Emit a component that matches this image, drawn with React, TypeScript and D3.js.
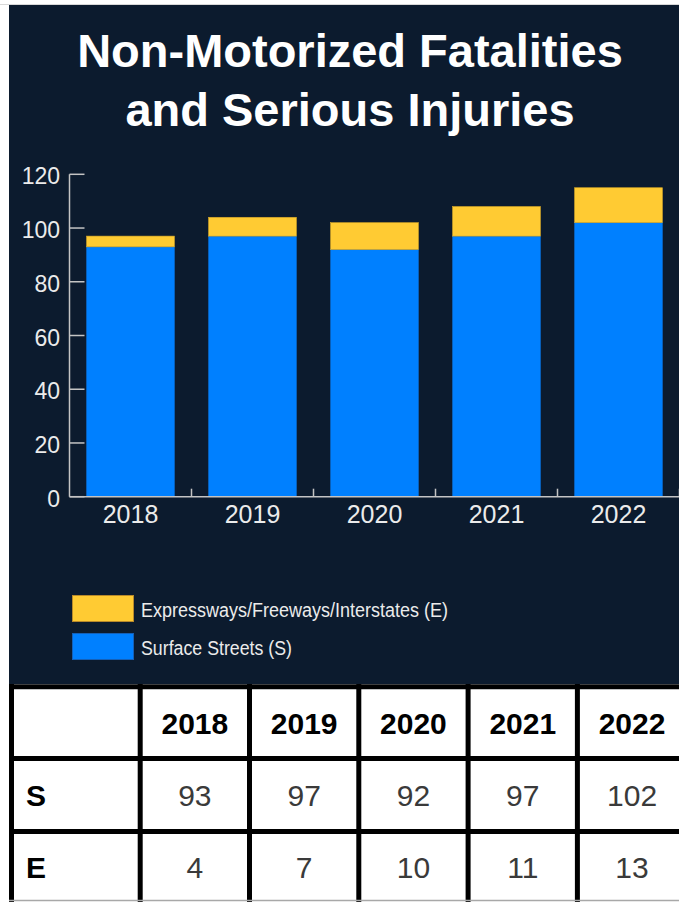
import React from "react";
import * as d3 from "d3";

const years = ["2018", "2019", "2020", "2021", "2022"];
const surface = [93, 97, 92, 97, 102];
const express = [4, 7, 10, 11, 13];
const yTicks = [0, 20, 40, 60, 80, 100, 120];
const titleLines = ["Non-Motorized Fatalities", "and Serious Injuries"];
const legendLabels = ["Expressways/Freeways/Interstates (E)", "Surface Streets (S)"];
const rowLabels = ["S", "E"];

const W = 679;
const H = 902;
const FONT = "'Liberation Sans', Arial, Helvetica, sans-serif";
const NAVY = "#0c1b2e";
const BLUE = "#0080ff";
const YELLOW = "#ffcb33";
const AXIS = "#c4c4c4";
const LABEL = "#ebebeb";

export default function App() {
  const x = d3
    .scaleBand<string>()
    .domain(years)
    .range([69.5, 679.5])
    .paddingInner(0.28)
    .paddingOuter(0.14);
  const y = d3.scaleLinear().domain([0, 120]).range([496.7, 174.3]);

  const table = years.map((yr, i) => ({ year: yr, S: surface[i], E: express[i] }));
  const stack = d3.stack<any>().keys(["S", "E"])(table);
  const colors: Record<string, string> = { S: BLUE, E: YELLOW };
  const strokes: Record<string, string> = { S: "#0a6fd8", E: "#d9a928" };

  const gap = x.step() - x.bandwidth();
  const boundaries = years.map((yr) => (x(yr) as number) + x.bandwidth() + gap / 2);

  // Table layout
  const colScale = d3
    .scaleLinear()
    .domain([0, years.length])
    .range([140.2, 140.2 + 109.3 * years.length]);
  const vLines = [11.5, ...d3.range(years.length + 1).map((i) => colScale(i))];
  const hLines = [686.7, 758.4, 831.5];
  const rowBaselines = [806, 878];
  const tableValues = [surface, express];

  return (
    <div style={{ position: "absolute", left: 0, top: 0 }}>
      <svg width={W} height={H} style={{ display: "block" }} fontFamily={FONT}>
        <rect x={0} y={0} width={W} height={H} fill="#ffffff" />
        <line x1={0} x2={W} y1={4.5} y2={4.5} stroke="#d8d8d8" strokeWidth={1} />
        <rect x={9} y={5} width={W - 9} height={679} fill={NAVY} />

        {/* Title */}
        {titleLines.map((t, i) => (
          <text
            key={t}
            x={350}
            y={66.7 + i * 58.8}
            textAnchor="middle"
            fill="#ffffff"
            fontWeight="bold"
            fontSize={47}
          >
            {t}
          </text>
        ))}

        {/* Bars */}
        {stack.map((layer) => (
          <g key={layer.key}>
            {layer.map((d, i) => (
              <rect
                key={i}
                x={x(years[i]) as number}
                y={y(d[1])}
                width={x.bandwidth()}
                height={y(d[0]) - y(d[1])}
                fill={colors[layer.key]}
                stroke={strokes[layer.key]}
                strokeWidth={0.6}
              />
            ))}
          </g>
        ))}

        {/* Y axis */}
        <line x1={69.5} x2={69.5} y1={y(120)} y2={y(0)} stroke={AXIS} strokeWidth={1.5} />
        {yTicks.map((t) => (
          <g key={t}>
            <line x1={69.5} x2={84.5} y1={y(t)} y2={y(t)} stroke={AXIS} strokeWidth={1.5} />
            <text x={60} y={y(t) + 10} textAnchor="end" fill={LABEL} fontSize={23}>
              {t}
            </text>
          </g>
        ))}

        {/* X axis */}
        <line x1={69.5} x2={W} y1={y(0)} y2={y(0)} stroke={AXIS} strokeWidth={1.5} />
        {boundaries.map((b, i) => (
          <line key={i} x1={b} x2={b} y1={y(0)} y2={y(0) - 8} stroke={AXIS} strokeWidth={1.5} />
        ))}
        {years.map((yr) => (
          <text
            key={yr}
            x={(x(yr) as number) + x.bandwidth() / 2}
            y={523}
            textAnchor="middle"
            fill={LABEL}
            fontSize={25}
          >
            {yr}
          </text>
        ))}

        {/* Legend */}
        {legendLabels.map((lab, i) => (
          <g key={lab}>
            <rect
              x={72.5}
              y={595.5 + i * 38}
              width={61}
              height={26}
              fill={i === 0 ? YELLOW : BLUE}
              stroke={i === 0 ? "#b8892a" : "#1460b8"}
              strokeWidth={1}
            />
            <text
              x={141}
              y={617.3 + i * 37.7}
              fill={LABEL}
              fontSize={20}
              textLength={i === 0 ? 307 : 151}
              lengthAdjust="spacingAndGlyphs"
            >
              {lab}
            </text>
          </g>
        ))}

        {/* Table */}
        <rect x={9} y={684} width={W - 9} height={H - 684} fill="#ffffff" />
        {years.map((yr, i) => (
          <text
            key={yr}
            x={(colScale(i) + colScale(i + 1)) / 2}
            y={734}
            textAnchor="middle"
            fill="#000000"
            fontWeight="bold"
            fontSize={30}
          >
            {yr}
          </text>
        ))}
        {rowLabels.map((r, ri) => (
          <g key={r}>
            <text x={26} y={rowBaselines[ri]} fill="#000000" fontWeight="bold" fontSize={30}>
              {r}
            </text>
            {tableValues[ri].map((v, i) => (
              <text
                key={i}
                x={(colScale(i) + colScale(i + 1)) / 2}
                y={rowBaselines[ri]}
                textAnchor="middle"
                fill="#3a3a3a"
                fontSize={30}
              >
                {v}
              </text>
            ))}
          </g>
        ))}
        {hLines.map((h, i) => (
          <line key={i} x1={9} x2={W} y1={h} y2={h} stroke="#000000" strokeWidth={5} />
        ))}
        {vLines.map((v, i) => (
          <line key={i} x1={v} x2={v} y1={684} y2={H} stroke="#000000" strokeWidth={5} />
        ))}
        <line x1={9} x2={W} y1={900.5} y2={900.5} stroke="#a8a8a8" strokeWidth={1.5} />
      </svg>
    </div>
  );
}
